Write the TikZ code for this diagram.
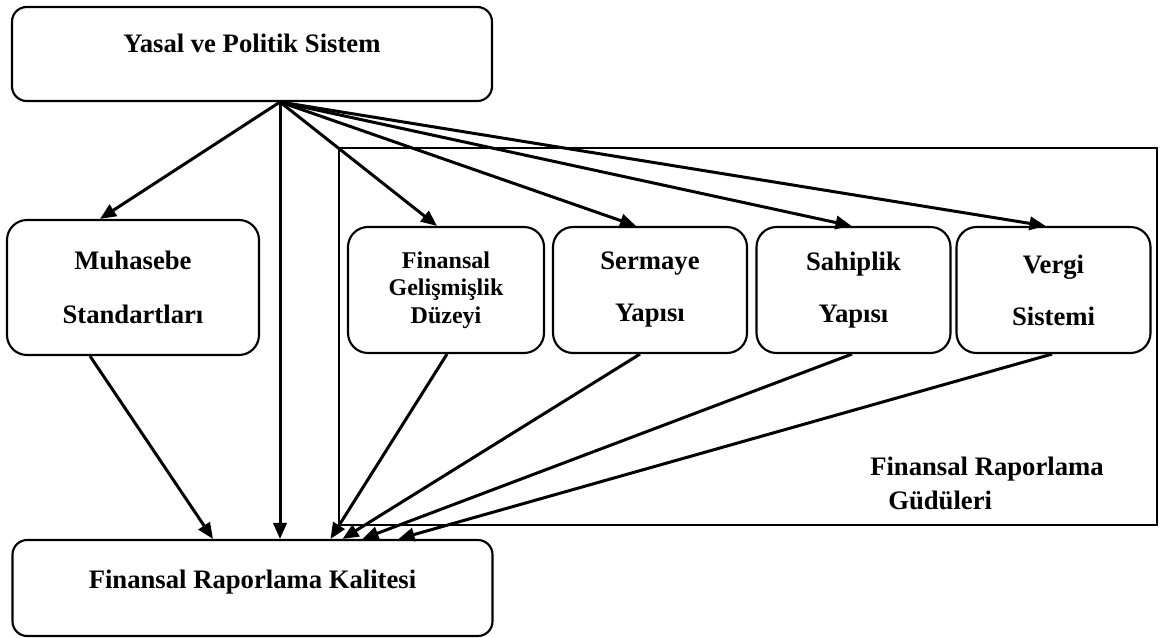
\documentclass[tikz,border=0pt]{standalone}
\usepackage{fontspec}
\setmainfont{Liberation Serif}
\usepackage{tikz}
\usetikzlibrary{arrows.meta}
\usetikzlibrary{calc}

\begin{document}
\begin{tikzpicture}[x=0.75pt, y=-0.75pt,
    kutu/.style={draw, line width=1.6pt, rounded corners=15pt, align=center,
        font=\bfseries\fontsize{20}{39}\selectfont,
        minimum width=145.5pt, minimum height=94.5pt, inner sep=2pt},
    genis/.style={draw, line width=1.6pt, rounded corners=11pt,
        font=\bfseries\fontsize{20}{24}\selectfont,
        minimum width=360pt, inner xsep=2pt, inner ysep=0pt},
    ok/.style={->, line width=2.25pt},
    >={Triangle[length=12pt,width=10pt]}]
        \useasboundingbox (0,0) rectangle (1166,638);

        % Draw the frame of the reporting motives
        \draw[line width=1pt] (339,148) rectangle (1157,525);
        \node[font=\bfseries\fontsize{20}{25.5}\selectfont, align=left, anchor=west, inner sep=0pt]
            (gud) at (870,483) {Finansal Raporlama\\\hspace*{13.5pt}Güdüleri};

        % Draw the boxes
        \node[genis, text height=34.5pt, text depth=36pt] (yasal) at (252,54) {Yasal ve Politik Sistem};
        \node[kutu, minimum width=189pt, minimum height=101.25pt,
            font=\bfseries\fontsize{20}{41}\selectfont] (muh) at (133,287.5) {Muhasebe\\Standartları};
        \node[kutu, minimum width=147pt, font=\bfseries\fontsize{18}{20.6}\selectfont]
            (fin) at (446,290) {Finansal\\Gelişmişlik\\Düzeyi};
        \node[kutu] (ser) at (650,290) {Sermaye\\Yapısı};
        \node[kutu] (sah) at (853.5,290) {Sahiplik\\Yapısı};
        \node[kutu] (ver) at (1053.5,290) {Vergi\\Sistemi};
        \node[genis, text height=36pt, text depth=36pt] (kal) at (252.5,588) {Finansal Raporlama Kalitesi};

        % Draw the arrows leaving the legal system
        \coordinate (src) at (280,102);
        \draw[ok] (src) -- ($(muh.north)+(-33,0)$);
        \draw[ok] (src) -- (src |- kal.north);
        \draw[ok] (src) -- ($(fin.north)+(-9,0)$);
        \draw[ok] (src) -- ($(ser.north)+(-14,0)$);
        \draw[ok] (src) -- ($(sah.north)+(-2,0)$);
        \draw[ok] (src) -- ($(ver.north)+(-8,0)$);

        % Draw the arrows into the reporting quality
        \draw[ok] ($(muh.south)+(-43,0)$) -- ($(kal.north)+(-39.5,0)$);
        \draw[ok] ($(fin.south)+(1,0)$) -- ($(kal.north)+(78,0)$);
        \draw[ok] ($(ser.south)+(-10,0)$) -- ($(kal.north)+(90,0)$);
        \draw[ok] ($(sah.south)+(-1.5,0)$) -- ($(kal.north)+(110,0)$);
        \draw[ok] ($(ver.south)+(-1.5,0)$) -- ($(kal.north)+(146,0)$);
    \end{tikzpicture}
\end{document}
